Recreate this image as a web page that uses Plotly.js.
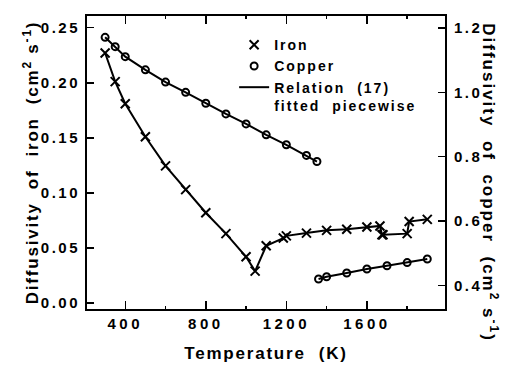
<!DOCTYPE html>
<html><head><meta charset="utf-8">
<script src="https://cdn.plot.ly/plotly-3.0.1.min.js"></script>
<style>
html,body{margin:0;padding:0;background:#fff}
#chart text{white-space:pre}
#chart .xtick text{letter-spacing:3.5px}
#chart .ytick text,#chart .y2tick text{letter-spacing:2.5px}
#chart text.xtitle,#chart text.ytitle{letter-spacing:1.8px}
#chart text.legendtext{letter-spacing:2px}
#chart text.annotation-text{letter-spacing:2px}
#chart .legend [clip-path]{clip-path:none !important}
</style></head><body>
<div id="chart" style="width:509px;height:366px"></div>
<script>
// Iron diffusivity (cm^2 s^-1) vs temperature (K)
const ironT = [300, 350, 400, 500, 600, 700, 800, 900, 1000, 1045, 1100, 1185, 1200, 1300, 1400, 1500, 1600, 1665, 1675, 1680, 1800, 1810, 1900];
const ironD = [0.227, 0.201, 0.181, 0.151, 0.1245, 0.103, 0.082, 0.063, 0.042, 0.029, 0.052, 0.059, 0.061, 0.0635, 0.066, 0.067, 0.069, 0.070, 0.062, 0.062, 0.063, 0.074, 0.076];
// Copper diffusivity (cm^2 s^-1): solid and liquid branches
const copperSolidT = [300, 350, 400, 500, 600, 700, 800, 900, 1000, 1100, 1200, 1300, 1352];
const copperSolidD = [1.171, 1.142, 1.111, 1.070, 1.032, 1.000, 0.966, 0.933, 0.902, 0.868, 0.837, 0.804, 0.785];
const copperLiquidT = [1360, 1400, 1500, 1600, 1700, 1800, 1900];
const copperLiquidD = [0.420, 0.427, 0.4385, 0.451, 0.461, 0.471, 0.482];
const xTickVals = [400, 800, 1200, 1600];
const ironTickVals = [0, 0.05, 0.10, 0.15, 0.20, 0.25];
const copperTickVals = [0.4, 0.6, 0.8, 1.0, 1.2];

const copperT = copperSolidT.concat([null], copperLiquidT);
const copperD = copperSolidD.concat([null], copperLiquidD);

const F = 'Liberation Sans, Arial, sans-serif';
const font = (s) => ({family: F, size: s, color: '#000', weight: 700});

const data = [
  {x: ironT, y: ironD, mode: 'lines', line: {color: '#000', width: 2}, showlegend: false, hoverinfo: 'skip'},
  {x: copperT, y: copperD, yaxis: 'y2', mode: 'lines', line: {color: '#000', width: 2}, connectgaps: false,
   name: 'Relation  (17)<br>fitted  piecewise', legendrank: 3},
  {x: ironT, y: ironD, mode: 'markers', name: 'Iron', legendrank: 1,
   marker: {symbol: 'x-thin-open', size: 9, color: '#000', line: {color: '#000', width: 2}}},
  {x: copperT, y: copperD, yaxis: 'y2', mode: 'markers', name: 'Copper', legendrank: 2,
   marker: {symbol: 'circle-open', size: 7, color: '#000', line: {color: '#000', width: 2}}}
];

const layout = {
  width: 509, height: 366,
  margin: {l: 87.3, r: 63.7, t: 16, b: 56.7, pad: 0},
  paper_bgcolor: '#fff', plot_bgcolor: '#fff',
  showlegend: true,
  legend: {x: 0.411, y: 0.955, xanchor: 'left', yanchor: 'top', bgcolor: 'rgba(0,0,0,0)',
           borderwidth: 0, font: font(14), tracegroupgap: 0, valign: 'top'},
  xaxis: {range: [210, 1988], tickvals: xTickVals, ticks: 'inside', ticklen: 8, tickwidth: 1.5,
          minor: {dtick: 200, tick0: 0, ticks: 'inside', ticklen: 3, tickwidth: 1.5, tickcolor: '#000'},
          showline: true, linewidth: 2, linecolor: '#000', mirror: 'ticks', showgrid: false, zeroline: false,
          tickfont: font(15), tickcolor: '#000',
          title: {text: 'Temperature  (K)', font: font(17), standoff: 16}},
  yaxis: {range: [-0.0054, 0.2606], tickvals: ironTickVals, tickformat: '.2f', ticks: 'inside', ticklen: 7, tickwidth: 1.5,
          showline: true, linewidth: 2, linecolor: '#000', showgrid: false, zeroline: false,
          tickfont: font(15), tickcolor: '#000', ticklabelstandoff: 2,
          title: {text: 'Diffusivity  of  iron  (cm<sup>2</sup> s<sup>-1</sup>)', font: font(17), standoff: 8}},
  yaxis2: {range: [0.3267, 1.2373], overlaying: 'y', side: 'right', tickvals: copperTickVals, tickformat: '.1f',
           ticks: 'inside', ticklen: 7, tickwidth: 1.5, showline: true, linewidth: 2, linecolor: '#000',
           showgrid: false, zeroline: false, tickfont: font(15), tickcolor: '#000', ticklabelstandoff: 4},
  annotations: [{xref: 'paper', yref: 'paper', x: 1.125, y: 0.43, xanchor: 'center', yanchor: 'middle',
                 textangle: 90, showarrow: false, font: font(17),
                 text: 'Diffusivity  of  copper  (cm<sup>2</sup> s<sup>-1</sup>)'}]
};

Plotly.newPlot('chart', data, layout, {displayModeBar: false, staticPlot: true});
</script>
</body></html>
